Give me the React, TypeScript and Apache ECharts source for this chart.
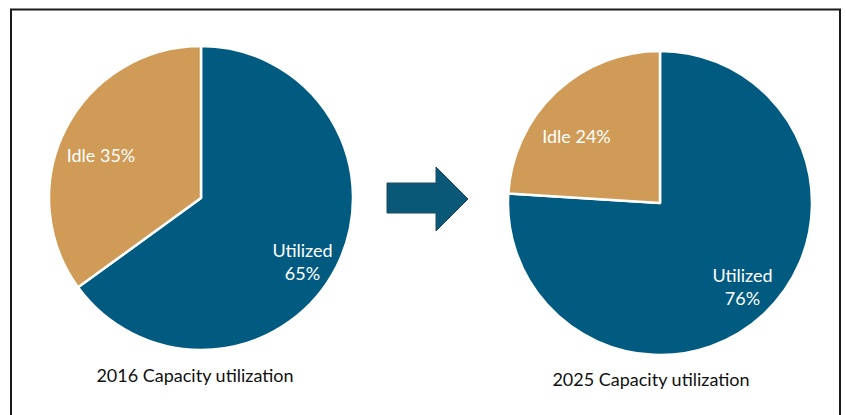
import React, { useEffect, useRef } from "react";
import * as echarts from "echarts";

const categories = ["Utilized", "Idle"];
const values2016 = [65, 35];
const values2025 = [76, 24];
const captions = ["2016 Capacity utilization", "2025 Capacity utilization"];

const BLUE = "#015A80";
const TAN = "#D09B56";
const FONT = "Lato, 'Open Sans', sans-serif";

export default function App() {
  const ref = useRef<HTMLDivElement>(null);
  useEffect(() => {
    if (!ref.current) return;
    const chart = echarts.init(ref.current, null, { renderer: "svg" });
    const mkData = (vals: number[]) =>
      vals.map((v, i) => ({
        name: categories[i],
        value: v,
        itemStyle: { color: i === 0 ? BLUE : TAN },
      }));
    const txt = (x: number, y: number, text: string, fill: string, size = 18) => ({
      type: "text",
      x,
      y,
      style: {
        text,
        fill,
        font: `${size}px ${FONT}`,
        textAlign: "center",
        textVerticalAlign: "middle",
        lineHeight: 23,
      },
      z: 10,
    });
    chart.setOption({
      animation: false,
      backgroundColor: "#ffffff",
      series: [
        {
          type: "pie",
          center: [201, 198],
          radius: 152,
          startAngle: 90,
          clockwise: true,
          label: { show: false },
          labelLine: { show: false },
          emphasis: { disabled: true },
          itemStyle: { borderColor: "#ffffff", borderWidth: 2.5 },
          data: mkData(values2016),
        },
        {
          type: "pie",
          center: [660, 203],
          radius: 152,
          startAngle: 90,
          clockwise: true,
          label: { show: false },
          labelLine: { show: false },
          emphasis: { disabled: true },
          itemStyle: { borderColor: "#ffffff", borderWidth: 2.5 },
          data: mkData(values2025),
        },
      ],
      graphic: [
        {
          type: "rect",
          shape: { x: 11, y: 9.5, width: 829, height: 420 },
          style: { fill: "none", stroke: "#1a1a1a", lineWidth: 2 },
          z: 1,
        },
        {
          type: "polygon",
          shape: {
            points: [
              [387, 183],
              [436, 183],
              [436, 167],
              [468, 199],
              [436, 231],
              [436, 213],
              [387, 213],
            ],
          },
          style: { fill: "#0A5878", stroke: "#23465c", lineWidth: 1 },
          z: 5,
        },
        txt(101, 155, `${categories[1]} ${values2016[1]}%`, "#ffffff"),
        txt(302.5, 261, `${categories[0]}\n${values2016[0]}%`, "#ffffff"),
        txt(576.5, 136, `${categories[1]} ${values2025[1]}%`, "#ffffff"),
        txt(742.5, 286, `${categories[0]}\n${values2025[0]}%`, "#ffffff"),
        txt(195, 375, captions[0], "#111111", 18),
        txt(651, 379, captions[1], "#111111", 18),
      ],
    });
    return () => chart.dispose();
  }, []);
  return (
    <div
      ref={ref}
      style={{ position: "fixed", left: 0, top: 0, width: 846, height: 415 }}
    />
  );
}
